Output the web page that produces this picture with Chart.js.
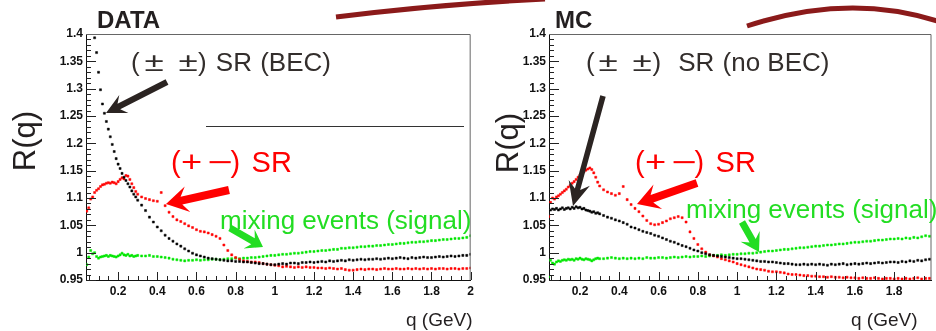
<!DOCTYPE html>
<html><head><meta charset="utf-8">
<script src="https://cdn.jsdelivr.net/npm/chart.js@4.4.1/dist/chart.umd.min.js"></script>
<style>
html,body{margin:0;padding:0;background:#fff;}
#wrap{position:relative;width:936px;height:331px;overflow:hidden;font-family:'Liberation Sans',Arial,sans-serif;background:#fff;}
.cv{position:absolute;top:0;}
.t{position:absolute;white-space:pre;line-height:1;}
.pm{display:inline-block;width:20px;text-align:center;}
.pm1{display:inline-block;transform:scaleX(1.35);}
.pm2{display:inline-block;transform:scaleX(1.25);}
.pm3{display:inline-block;transform:scaleX(1.5);}
svg{position:absolute;left:0;top:0;}
</style></head><body>
<div id="wrap">
  <canvas id="cL" class="cv" style="left:0" width="478" height="331"></canvas>
  <canvas id="cR" class="cv" style="left:478px" width="458" height="331"></canvas>
  <svg id="ov" width="936" height="331"></svg>

  <div class="t" style="left:97px;top:7.7px;font-size:24px;font-weight:bold;color:#231f20">DATA</div>
  <div class="t" style="left:555px;top:7.7px;font-size:24px;font-weight:bold;color:#231f20">MC</div>

  <div class="t" style="left:131px;top:48.7px;font-size:26px;color:#332e2c">(<span class="pm" style="margin-left:4px"><span class="pm1">±</span></span> <span class="pm" style="margin-left:7px"><span class="pm1">±</span></span>) <span style="margin-left:2px">SR</span> <span style="margin-left:1px">(BEC)</span></div>
  <div class="t" style="left:586px;top:48.7px;font-size:26px;color:#332e2c">(<span class="pm" style="margin-left:3.6px"><span class="pm1">±</span></span> <span class="pm" style="margin-left:7px"><span class="pm1">±</span></span>) <span style="margin-left:9.8px">SR</span> <span style="margin-left:1px">(no BEC)</span></div>

  <div class="t" style="left:171px;top:147.5px;font-size:29px;color:#ff0000">(<span class="pm" style="width:18px;margin-left:1.3px"><span class="pm2">+</span></span> <span class="pm" style="width:18px;margin-left:3px"><span class="pm3">−</span></span><span style="margin-left:1.5px">)</span> <span style="margin-left:3.3px">SR</span></div>
  <div class="t" style="left:635px;top:147.5px;font-size:29px;color:#ff0000">(<span class="pm" style="width:18px;margin-left:1.3px"><span class="pm2">+</span></span> <span class="pm" style="width:18px;margin-left:3px"><span class="pm3">−</span></span><span style="margin-left:1.5px">)</span> <span style="margin-left:3.3px">SR</span></div>

  <div class="t" style="left:220px;top:206.5px;font-size:26px;color:#22dd22">mixing events (signal)</div>
  <div class="t" style="left:686px;top:196px;font-size:26px;color:#22dd22">mixing events (signal)</div>

  <div class="t" style="left:24px;top:141px;font-size:31px;color:#231f20;transform:translate(-50%,-50%) rotate(-90deg)">R(q)</div>
  <div class="t" style="left:507px;top:143px;font-size:31px;color:#231f20;transform:translate(-50%,-50%) rotate(-90deg)">R(q)</div>

  <div class="t" style="left:406px;top:309.9px;font-size:19px;color:#231f20">q (GeV)</div>
  <div class="t" style="left:851px;top:309.9px;font-size:19px;color:#231f20">q (GeV)</div>
</div>
<script>
// ---------- data ----------
const qBins = [
  0.04,0.05,0.06,0.07,0.08,0.09,0.10,0.11,0.12,0.13,0.14,0.15,0.16,0.17,0.18,0.19,0.20,0.21,0.22,0.23,0.24,0.25,0.26,0.27,0.28,0.29,0.30,
  0.32,0.34,0.36,0.38,0.40,0.42,0.44,0.46,0.48,0.50,0.52,0.54,0.56,0.58,0.60,0.62,0.64,0.66,0.68,0.70,
  0.72,0.74,0.76,0.78,0.80,0.82,0.84,0.86,0.88,0.90,0.92,0.94,0.96,0.98,1.00,1.02,1.04,1.06,1.08,1.10,
  1.12,1.14,1.16,1.18,1.20,1.22,1.24,1.26,1.28,1.30,1.32,1.34,1.36,1.38,1.40,1.42,1.44,1.46,1.48,1.50,
  1.52,1.54,1.56,1.58,1.60,1.62,1.64,1.66,1.68,1.70,1.72,1.74,1.76,1.78,1.80,1.82,1.84,1.86,1.88,1.90,
  1.92,1.94,1.96,1.98,2.00
];

// DATA panel
const dataLikeSign = [
  null,null,null,null,1.393,1.366,1.330,1.298,1.272,1.255,1.240,1.226,1.212,1.198,1.185,1.172,1.162,1.154,1.145,1.138,1.132,1.126,1.120,1.113,1.107,1.102,1.096,
  1.087,1.077,1.065,1.056,1.047,1.040,1.032,1.026,1.021,1.016,
  1.012,1.007,1.003,0.999,0.996,0.994,0.992,0.990,0.989,0.988,
  0.987,0.986,0.985,0.985,0.984,0.984,0.983,0.983,0.982,0.981,
  0.980,0.980,0.979,0.978,0.978,0.979,0.980,0.979,0.981,0.981,
  0.980,0.982,0.982,0.983,0.982,0.983,0.984,0.983,0.985,0.984,
  0.985,0.986,0.985,0.987,0.986,0.987,0.988,0.987,0.988,0.988,
  0.989,0.988,0.989,0.990,0.989,0.990,0.991,0.990,0.989,0.991,
  0.990,0.991,0.992,0.991,0.991,0.992,0.993,0.992,0.993,0.994,
  0.993,0.994,0.995,0.995,0.997
];
const dataUnlikeSign = [
  1.076,1.082,1.098,1.102,1.110,1.114,1.117,1.121,1.124,1.125,1.127,1.128,1.127,1.129,1.128,1.126,1.130,1.134,1.137,1.135,1.141,1.140,1.134,1.126,1.119,1.112,1.107,
  1.102,1.099,1.097,1.095,1.094,1.110,1.086,1.074,1.066,1.060,
  1.057,1.053,1.049,1.046,1.042,1.039,1.038,1.036,1.033,1.030,
  1.026,1.014,1.004,0.996,0.991,0.988,0.985,0.984,0.983,0.983,
  0.982,0.980,0.979,0.978,0.977,0.976,0.974,0.975,0.974,0.973,
  0.974,0.973,0.974,0.973,0.973,0.972,0.972,0.971,0.972,0.971,
  0.970,0.971,0.969,0.968,0.968,0.969,0.970,0.969,0.970,0.970,
  0.969,0.970,0.971,0.970,0.970,0.971,0.970,0.970,0.971,0.970,
  0.971,0.970,0.971,0.970,0.971,0.970,0.971,0.971,0.970,0.971,
  0.971,0.970,0.971,0.971,0.972
];
const dataMixing = [
  0.978,0.992,1.004,0.998,1.000,0.993,0.990,0.992,0.993,0.994,0.995,0.993,0.995,0.994,0.993,0.992,0.994,0.996,0.999,0.996,0.995,0.997,0.994,0.995,0.993,0.994,0.995,
  0.994,0.994,0.995,0.993,0.993,0.992,0.991,0.990,0.988,0.987,
  0.986,0.985,0.986,0.986,0.987,0.986,0.987,0.987,0.988,0.988,
  0.987,0.988,0.989,0.989,0.990,0.989,0.990,0.990,0.991,0.991,
  0.992,0.993,0.994,0.995,0.995,0.996,0.997,0.997,0.998,0.999,
  0.999,1.000,1.001,1.002,1.002,1.003,1.004,1.004,1.005,1.006,
  1.006,1.008,1.008,1.009,1.009,1.010,1.011,1.011,1.012,1.012,
  1.013,1.013,1.014,1.015,1.015,1.016,1.017,1.017,1.018,1.019,
  1.019,1.020,1.020,1.021,1.022,1.022,1.023,1.024,1.024,1.025,
  1.026,1.026,1.027,1.028,1.031
];

// MC panel
const mcLikeSign = [
  1.052,1.078,1.080,1.079,1.081,1.078,1.080,1.082,1.079,1.081,1.082,1.080,1.083,1.081,1.084,1.082,1.083,1.080,1.081,1.078,1.077,1.076,1.074,1.075,1.072,1.073,1.071,
  1.068,1.065,1.063,1.060,1.058,1.055,1.052,1.047,1.045,1.042,
  1.039,1.037,1.035,1.032,1.030,1.027,1.024,1.021,1.019,1.016,
  1.013,1.011,1.008,1.005,1.003,1.000,0.998,0.996,0.995,0.994,
  0.993,0.992,0.991,0.990,0.989,0.989,0.988,0.987,0.986,0.985,
  0.984,0.984,0.983,0.983,0.982,0.981,0.980,0.980,0.979,0.978,
  0.978,0.979,0.978,0.979,0.978,0.979,0.978,0.977,0.979,0.978,
  0.979,0.980,0.978,0.979,0.980,0.979,0.980,0.981,0.980,0.981,
  0.982,0.981,0.982,0.983,0.983,0.982,0.984,0.983,0.985,0.984,
  0.986,0.985,0.987,0.988,null
];
const mcUnlikeSign = [
  1.066,1.092,1.100,1.098,1.102,1.104,1.107,1.110,1.113,1.116,1.120,1.123,1.127,1.130,1.134,1.138,1.142,1.146,1.148,1.151,1.153,1.155,1.152,1.146,1.138,1.129,1.122,
  1.115,1.111,1.108,1.105,1.108,1.121,1.097,1.088,1.081,1.075,
  1.067,1.059,1.053,1.051,1.052,1.055,1.058,1.062,1.064,1.066,
  1.064,1.056,1.038,1.026,1.015,1.007,1.001,0.996,0.994,0.992,
  0.989,0.987,0.985,0.983,0.980,0.978,0.976,0.974,0.972,0.970,
  0.969,0.968,0.966,0.965,0.965,0.964,0.963,0.961,0.960,0.960,
  0.959,0.958,0.958,0.957,0.957,0.956,0.956,0.955,0.956,0.955,
  0.955,0.954,0.955,0.954,0.954,0.953,0.954,0.953,0.953,0.954,
  0.953,0.952,0.953,0.953,0.952,0.953,0.952,0.953,0.952,0.953,
  0.954,0.952,0.953,0.953,null
];
const mcMixing = [
  0.956,0.986,0.981,0.979,0.983,0.985,0.984,0.986,0.987,0.986,0.988,0.987,0.988,0.986,0.989,0.988,0.990,0.988,0.987,0.989,0.988,0.987,0.985,0.987,0.989,0.990,0.989,
  0.989,0.990,0.991,0.990,0.989,0.990,0.989,0.990,0.989,0.990,
  0.989,0.991,0.990,0.990,0.991,0.991,0.990,0.991,0.992,0.991,
  0.992,0.993,0.992,0.993,0.993,0.994,0.993,0.994,0.995,0.995,
  0.996,0.995,0.996,0.997,0.997,0.998,0.998,0.999,0.999,1.000,
  1.001,1.002,1.003,1.003,1.004,1.005,1.006,1.006,1.007,1.008,
  1.009,1.009,1.010,1.011,1.012,1.012,1.013,1.014,1.014,1.015,
  1.016,1.016,1.017,1.018,1.019,1.019,1.020,1.021,1.021,1.022,
  1.023,1.023,1.024,1.025,1.025,1.026,1.025,1.027,1.026,1.028,
  1.027,1.029,1.031,1.030,null
];

// tick labels
const yTickValues = [0.95,1.00,1.05,1.10,1.15,1.20,1.25,1.30,1.35,1.40];
const xTicksData = [0.2,0.4,0.6,0.8,1.0,1.2,1.4,1.6,1.8,2.0];
const xTicksMC = [0.2,0.4,0.6,0.8,1.0,1.2,1.4,1.6,1.8];

const COL_BLACK = '#000000', COL_RED = '#ff0000', COL_GREEN = '#00e600';

// ---------- ROOT-style frame & minor ticks ----------
const rootFrame = {
  id: 'rootFrame',
  afterDraw(chart) {
    const {ctx, chartArea: a, scales: {x, y}} = chart;
    ctx.save();
    ctx.strokeStyle = '#222';
    ctx.lineWidth = 1;
    ctx.beginPath();
    const k0 = Math.round(y.min * 100), k1 = Math.round(y.max * 100);
    for (let k = k0; k <= k1; k++) {
      const py = Math.round(y.getPixelForValue(k / 100)) + 0.5;
      const len = (k % 5 === 0) ? 10 : 5;
      ctx.moveTo(a.left, py); ctx.lineTo(a.left + len, py);
    }
    const j0 = Math.ceil(x.min * 20 - 1e-6), j1 = Math.floor(x.max * 20 + 1e-6);
    for (let j = j0; j <= j1; j++) {
      const px = Math.round(x.getPixelForValue(j / 20)) + 0.5;
      const len = (j % 4 === 0) ? 8 : 4;
      ctx.moveTo(px, a.bottom); ctx.lineTo(px, a.bottom - len);
    }
    ctx.stroke();
    ctx.strokeStyle = '#666';
    ctx.beginPath();
    ctx.moveTo(a.left, a.top + 0.5); ctx.lineTo(a.right - 0.5, a.top + 0.5); ctx.lineTo(a.right - 0.5, a.bottom);
    ctx.stroke();
    ctx.restore();
  }
};

function fmt(v) { return String(parseFloat(Number(v).toFixed(2))); }

function makeChart(id, series, xMin, xMax, xTicks, yWidth, padRight) {
  return new Chart(document.getElementById(id), {
    type: 'scatter',
    data: {
      datasets: series.map((s, idx) => ({
        data: qBins.map((q, i) => ({x: q, y: s.vals[i]})).filter(p => p.y !== null && p.y !== undefined),
        showLine: false,
        pointStyle: 'rect',
        pointRadius: 1.45,
        pointBorderWidth: 0.5,
        pointBackgroundColor: s.color,
        pointBorderColor: s.color,
        order: idx
      }))
    },
    options: {
      responsive: false,
      animation: false,
      events: [],
      layout: {padding: {top: 34, right: padRight, left: 0, bottom: 0}},
      plugins: {legend: {display: false}, tooltip: {enabled: false}},
      scales: {
        x: {
          type: 'linear', min: xMin, max: xMax,
          afterBuildTicks: s => { s.ticks = xTicks.map(v => ({value: v})); },
          afterFit: s => { s.height = 51; },
          grid: {drawOnChartArea: false, drawTicks: false},
          border: {display: true, color: '#111', width: 1},
          ticks: {font: {family: 'Liberation Sans', weight: 'bold', size: 12}, color: '#111', padding: 4,
                  autoSkip: false, maxRotation: 0, callback: v => fmt(v)}
        },
        y: {
          type: 'linear', min: 0.95, max: 1.4,
          afterBuildTicks: s => { s.ticks = yTickValues.map(v => ({value: v})); },
          afterFit: s => { s.width = yWidth; },
          grid: {drawOnChartArea: false, drawTicks: false},
          border: {display: true, color: '#111', width: 1},
          ticks: {font: {family: 'Liberation Sans', weight: 'bold', size: 12}, color: '#111', padding: 3,
                  autoSkip: false, callback: v => fmt(v)}
        }
      }
    },
    plugins: [rootFrame]
  });
}

makeChart('cL', [
  {vals: dataLikeSign, color: COL_BLACK},
  {vals: dataUnlikeSign, color: COL_RED},
  {vals: dataMixing, color: COL_GREEN}
], 0.036, 2.0, xTicksData, 86, 7);

makeChart('cR', [
  {vals: mcLikeSign, color: COL_BLACK},
  {vals: mcUnlikeSign, color: COL_RED},
  {vals: mcMixing, color: COL_GREEN}
], 0.042, 1.99, xTicksMC, 71, 1);

// ---------- annotation arrows & decorations ----------
const NS = 'http://www.w3.org/2000/svg';
const ov = document.getElementById('ov');
function el(tag, attrs) {
  const e = document.createElementNS(NS, tag);
  for (const k in attrs) e.setAttribute(k, attrs[k]);
  ov.appendChild(e);
  return e;
}
function arrow(x1, y1, x2, y2, w, hl, hw, color) {
  const dx = x2 - x1, dy = y2 - y1, L = Math.hypot(dx, dy);
  const ux = dx / L, uy = dy / L, nx = -uy, ny = ux;
  const neck = [x2 - ux * hl * 0.72, y2 - uy * hl * 0.72];
  const base = [x2 - ux * hl, y2 - uy * hl];
  const pts = [
    [x1 + nx * w / 2, y1 + ny * w / 2],
    [neck[0] + nx * w / 2, neck[1] + ny * w / 2],
    [base[0] + nx * hw / 2, base[1] + ny * hw / 2],
    [x2, y2],
    [base[0] - nx * hw / 2, base[1] - ny * hw / 2],
    [neck[0] - nx * w / 2, neck[1] - ny * w / 2],
    [x1 - nx * w / 2, y1 - ny * w / 2]
  ];
  el('polygon', {points: pts.map(p => p[0].toFixed(1) + ',' + p[1].toFixed(1)).join(' '), fill: color});
}
// decorative slide strokes
el('path', {d: 'M336,17 Q440,4 545,-1', stroke: '#8b1a1a', 'stroke-width': 5, fill: 'none'});
el('path', {d: 'M747,26 Q850,-8 940,22', stroke: '#8b1a1a', 'stroke-width': 5, fill: 'none'});
el('line', {x1: 206, y1: 126.5, x2: 464, y2: 126.5, stroke: '#333', 'stroke-width': 1});

arrow(167, 82, 106, 113, 6, 20, 20, '#2b2422');
arrow(603, 96, 573, 206, 5.5, 24, 22, '#2b2422');
arrow(229, 190, 166, 204, 8, 22, 26, '#ff0000');
arrow(697, 183, 637, 204, 8, 22, 26, '#ff0000');
arrow(230, 228, 263, 247, 7, 16, 22, '#22dd22');
arrow(742, 222, 759, 252, 7, 18, 22, '#22dd22');
</script>
</body></html>
